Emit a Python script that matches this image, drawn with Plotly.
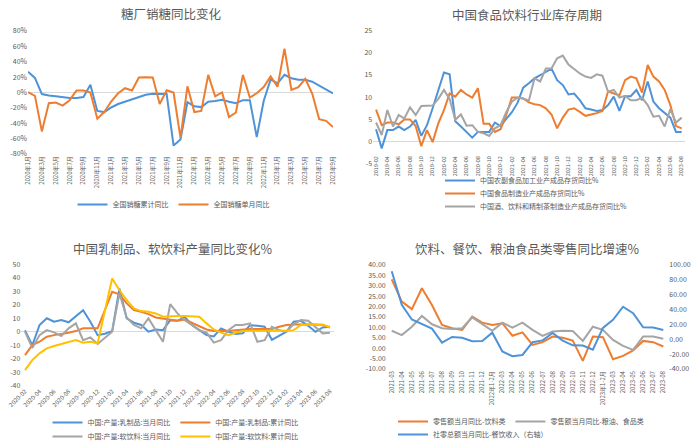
import plotly.graph_objects as go

W, H = 700, 446
FONT = "Noto Sans CJK SC"
TXT = "#595959"
BLUE = "#4E93D8"
ORANGE = "#ED7D31"
GRAY = "#A5A5A5"
YELLOW = "#FFC000"

# ---------------- data ----------------
# Panel 1: sugar sales yoy
_all_cn = [f"{y}年{m}月" for y in (2020, 2021, 2022, 2023) for m in range(1, 13)]
sugar_months = _all_cn[:45]  # 2020年1月 .. 2023年9月
sugar_cum = [27, 19, -2, -4, -5, -6, -7, -7, -6, 10, -24, -25.5, -19.5, -15, -12, -9.5,
             -5.6, -3, -1.7, -2, -2, -69, -61, -12.5, -18, -19, -12, -11, -9.5, -12, -14,
             -10, -10, -58, -11, 17, 12, 23, 18.6, 16.5, 16.5, 14, 8.7, 3, -1.3]
sugar_month = [0.4, -4.3, -50.6, -14, -13, -17, -10, 2.6, 2.6, 0, -34, -25.5, -11.7, -1,
               5.6, 2.6, 19.5, 20, 19.5, -15, 3, 0, -59, 8, -25.5, -24, 23, -5, 0, -32,
               -26, 23, -6.5, -1, 7, 21, 7.4, 57, 3.5, 7, 17.7, -1.3, -34.6, -36.8, -45]

# Panel 2: inventory cycle
_all_dash = [f"{y}-{m:02d}" for y in (2019, 2020, 2021, 2022, 2023) for m in range(1, 13)]
inv_months = _all_dash[1:56]  # 2019-02 .. 2023-08
inv_agri = [2.8, -1.5, 2.6, 2.6, 3.4, 2.6, 3.4, 4.9, 1.3, 3.7,
            7.5, 11.6, 15.5, 15.1, 4.6, 3.4, 2.2, 0.9, 2.2, 2.2,
            2.2, 4.3, 3.5, 5.1, 6.6, 8.7, 12.1, 13.1, 14.2, 14.9,
            15.7, 16.4, 13.8, 12.7, 10.6, 10.8, 9.3, 7.5, 7.2, 6.9,
            7.1, 8.2, 10.1, 6.9, 10.2, 10.2, 11.6, 9.3, 13.5, 9.0,
            7.5, 6.4, 5.4, 2.2, 2.2]
inv_food = [7.2, 3.7, 4.3, 4.3, 3.9, 5.0, 5.0, 3.5, -1.0, 2.6,
            -0.1, 4.1, 7.1, 10.8, 10.1, 11.6, 10.6, 9.9, 12.0, 4.0,
            4.0, 2.2, 2.8, 6.0, 9.9, 9.9, 9.7, 8.8, 8.4, 8.2,
            7.5, 6.1, 3.0, 5.4, 7.2, 7.5, 6.7, 5.8, 6.1, 6.4,
            6.9, 11.3, 10.8, 10.4, 13.8, 14.6, 14.2, 11.0, 17.2, 14.6,
            13.5, 11.6, 8.2, 3.5, 3.0]
inv_drink = [4.3, 1.5, 7.1, 3.4, 6.0, 5.2, 7.7, 6.0, 8.0, 8.0,
             8.1, 9.6, 11.6, 9.6, 4.9, 6.1, 3.6, 3.7, 2.2, 1.9,
             1.3, 3.0, 3.7, 6.6, 9.0, 9.9, 9.7, 9.2, 14.2, 13.5,
             16.4, 16.4, 18.7, 19.3, 17.3, 16.3, 15.3, 14.6, 14.3, 15.1,
             14.8, 11.2, 11.6, 9.9, 10.3, 9.3, 9.3, 9.9, 8.2, 5.6,
             5.8, 3.4, 7.3, 4.3, 5.4]

# Panel 3: dairy / soft drink output
dairy_months = _all_dash[13:56]  # 2020-02 .. 2023-08
dairy_m = [1, -10, 5, 10, 7.4, 8.6, 7, 11.6, 16, 7.4,
           -2.5, -1.5, 0.5, 32, 10, 6.7, 5, 0, 1.7, 1.2,
           8.6, 8.1, 11, 5, 1.2, -2.5, -3.5, 2.5, 0, -1.7,
           -1.2, 5, 4.4, 3.7, -6, -3.2, 0, 7.4, 8.1, 4.4,
           0, 3.2, 3.7]
dairy_c = [-17.3, -9.9, -7.4, -3.7, -2.5, -1.7, -0.7, 0.5, 2.5, 2.5,
           2.5, None, 29.6, 27.7, 21, 16, 14.8, 13.1, 10.6, 9.9,
           9.1, 8.1, 9.1, 6.7, 4.2, 1.7, 0.5, 0.5, 0.5, 1.2,
           1.7, 2.0, 2.0, 2.0, 2.0, 3.7, 5, 5.4, 5.4, 5.7,
           5.4, 5, 3.2]
soft_m = [0, -12, -2.5, 1.2, -0.5, -3.2, 2.5, 6.2, -6.2, -4.2,
          -9.1, -4.9, 0, 28.4, 10.6, 5, 2.5, 9.9, 1.7, -7.4,
          20.5, 13.6, 8.6, 5, 1.2, -0.7, -8.1, -6.2, 1.2, 5,
          5, 6.2, -7.4, -6.2, 3.7, 1.2, 0, 5.7, 8.6, 8.1,
          3.2, -1.2, -0.7]
soft_c = [-28.4, -21, -16, -12.3, -10.6, -9.1, -8.1, -6.2, -8.1, -7.4,
          -8.6, None, 39.5, 30.9, 23.5, 17.3, 15.3, 14.8, 13.6, 11.1,
          11.6, 11.6, 11.6, 11.6, 11.1, 6.2, 1.7, -0.7, -2.5, -0.7,
          0.5, 0.7, 0.7, 0.5, 0.5, 0.5, 0.7, 1.2, 5, 5.4,
          5, 5.4, 3.2]

# Panel 4: retail yoy
retail_cats = ["2021-03", "2021-04", "2021-05", "2021-06", "2021-07", "2021-08", "2021-09",
               "2021-10", "2021-11", "2021-12", "2022年1-2月", "2022-03", "2022-04", "2022-05",
               "2022-06", "2022-07", "2022-08", "2022-09", "2022-10", "2022-11", "2022-12",
               "2023年1-2月", "2023-03", "2023-04", "2023-05", "2023-06", "2023-07", "2023-08"]
retail_bev = [33.1, 22.4, 18.8, 28.8, 20.8, 11.2, 9.6, 8.8, 15.2, 12.3,
              11.2, 12, 6.0, 7.6, 1.6, 2.9, 5.6, 5.0, 3.7, -6.1,
              5.6, 5.3, -5.3, -3.7, -1.1, 3.5, 2.9, 0.8]
retail_food = [8.4, 6.3, 10.3, 15.5, 11.5, 9.6, 9.2, 9.6, 14.8, 11.6,
               8.4, 12.3, 9.9, 12.3, 8.8, 5.9, 8, 8.4, 8.3, 3.5,
               10.3, 8.8, 4.0, 1.1, -0.8, 5.6, 5.6, 4.5]
retail_catering = [91.6, 46.4, 26.6, 20.0, 14.3, -4.5, 3.1, 2.0, -2.7, -2.2,
                   8.9, -16.4, -22.7, -21.1, -4.0, -1.5, 8.4, -1.7, -8.1, -8.4,
                   -14.1, 15.4, 26.3, 43.8, 35.1, 16.1, 15.8, 12.4]

# tick values
p1_y = list(range(-80, 81, 20))
p2_y = list(range(-5, 26, 5))
p3_y = list(range(-40, 51, 10))
p4_yl = list(range(-10, 41, 5))
p4_yr = list(range(-40, 101, 20))


def px(p):
    return p / W


def py(p):
    return (H - p) / H


fig = go.Figure()
LW = 2


def line(x, y, name, color, xa, ya, legend, gaps=False):
    fig.add_trace(go.Scatter(x=x, y=y, name=name, mode="lines",
                             line=dict(color=color, width=LW),
                             xaxis=xa, yaxis=ya, legend=legend,
                             connectgaps=gaps, hoverinfo="skip"))


line(sugar_months, sugar_cum, "全国销糖累计同比", BLUE, "x", "y", "legend")
line(sugar_months, sugar_month, "全国销糖单月同比", ORANGE, "x", "y", "legend")

line(inv_months, inv_agri, "中国农副食品加工业产成品存货同比%", BLUE, "x2", "y2", "legend2")
line(inv_months, inv_food, "中国食品制造业产成品存货同比%", ORANGE, "x2", "y2", "legend3")
line(inv_months, inv_drink, "中国酒、饮料和精制茶制造业产成品存货同比%", GRAY, "x2", "y2", "legend4")

line(dairy_months, dairy_m, "中国:产量:乳制品:当月同比", BLUE, "x3", "y3", "legend5")
line(dairy_months, dairy_c, "中国:产量:乳制品:累计同比", ORANGE, "x3", "y3", "legend5", True)
line(dairy_months, soft_m, "中国:产量:软饮料:当月同比", GRAY, "x3", "y3", "legend6")
line(dairy_months, soft_c, "中国:产量:软饮料:累计同比", YELLOW, "x3", "y3", "legend6", True)

line(retail_cats, retail_bev, "零售额当月同比-饮料类", ORANGE, "x4", "y4", "legend7")
line(retail_cats, retail_food, "零售额当月同比-粮油、食品类", GRAY, "x4", "y4", "legend7")
line(retail_cats, retail_catering, "社零总额当月同比-餐饮收入（右轴）", BLUE, "x4", "y5", "legend8")

xtf = dict(size=6, color=TXT, family=FONT)
ytf = dict(size=7, color=TXT, family=FONT)
common_x = dict(type="category", showgrid=False, zeroline=False, showline=False,
                ticks="", tickfont=xtf, fixedrange=True, automargin=False)
common_y = dict(showgrid=False, showline=False, ticks="", tickfont=ytf,
                zeroline=False, fixedrange=True, automargin=False)


def fmt(v, dec=0, suffix=""):
    return f"{v:.{dec}f}{suffix}"


fig.update_layout(
    width=W, height=H, margin=dict(l=0, r=0, t=0, b=0, autoexpand=False),
    paper_bgcolor="white", plot_bgcolor="white",
    font=dict(family=FONT, color=TXT),
    xaxis=dict(common_x, domain=[px(28), px(333)], range=[0, 44], anchor="y",
               tickvals=sugar_months[::2], tickangle=-90),
    yaxis=dict(common_y, domain=[py(154), py(31)], range=[-80, 80], anchor="x",
               tickvals=p1_y, ticktext=[fmt(v, 0, "%") for v in p1_y],
               zeroline=True, zerolinecolor="#D9D9D9", zerolinewidth=1),
    xaxis2=dict(common_x, domain=[px(373.2), px(684.5)], range=[-0.5, 54.5],
                anchor="y2", tickvals=inv_months[::2], tickangle=-90,
                ticklabelstandoff=-10, tickfont=dict(size=5.5, color=TXT, family=FONT)),
    yaxis2=dict(common_y, domain=[py(164), py(30.2)], range=[-5, 25], anchor="x2",
                tickvals=p2_y, ticktext=[fmt(v) for v in p2_y],
                zeroline=True, zerolinecolor="#D9D9D9", zerolinewidth=1),
    xaxis3=dict(common_x, domain=[px(21.4), px(333.6)], range=[-0.5, 42.5], anchor="y3",
                tickvals=dairy_months[::2], tickangle=-45),
    yaxis3=dict(common_y, domain=[py(385.7), py(264.3)], range=[-40, 50], anchor="x3",
                tickvals=p3_y, ticktext=[fmt(v) for v in p3_y],
                zeroline=True, zerolinecolor="#D9D9D9", zerolinewidth=1),
    xaxis4=dict(common_x, domain=[px(386.7), px(668.3)], range=[-0.5, 27.5], anchor="y4",
                tickvals=retail_cats, tickangle=-90),
    yaxis4=dict(common_y, domain=[py(369), py(265)], range=[-10, 40], anchor="x4",
                tickvals=p4_yl, ticktext=[fmt(v, 2) for v in p4_yl]),
    yaxis5=dict(common_y, domain=[py(369), py(265)], range=[-40, 100], anchor="x4",
                overlaying="y4", side="right",
                tickvals=p4_yr, ticktext=[fmt(v, 2) for v in p4_yr]),
)

lf = dict(size=7, color=TXT, family=FONT)
base_leg = dict(orientation="h", font=lf, bgcolor="rgba(0,0,0,0)", yanchor="top",
                itemclick=False, itemdoubleclick=False, tracegroupgap=0)
OFF = 14  # approx distance from legend top to item centre
fig.update_layout(
    legend=dict(base_leg, x=px(173.5), xanchor="center", y=py(204 - OFF)),
    legend2=dict(base_leg, x=px(440), xanchor="left", y=py(180 - OFF)),
    legend3=dict(base_leg, x=px(440), xanchor="left", y=py(193 - OFF)),
    legend4=dict(base_leg, x=px(440), xanchor="left", y=py(206 - OFF)),
    legend5=dict(base_leg, x=px(175.5), xanchor="center", y=py(422 - OFF)),
    legend6=dict(base_leg, x=px(175.5), xanchor="center", y=py(436 - OFF)),
    legend7=dict(base_leg, x=px(393), xanchor="left", y=py(421 - OFF)),
    legend8=dict(base_leg, x=px(393), xanchor="left", y=py(434 - OFF)),
)

titles = [("糖厂销糖同比变化", 171, 14), ("中国食品饮料行业库存周期", 527, 15),
          ("中国乳制品、软饮料产量同比变化%", 172.5, 248),
          ("饮料、餐饮、粮油食品类零售同比增速%", 527.5, 248)]
for t, x, y in titles:
    fig.add_annotation(text=t, x=px(x), y=py(y), xref="paper", yref="paper",
                       xanchor="center", yanchor="middle", showarrow=False,
                       font=dict(size=12.5, color=TXT, family=FONT))

fig.write_html("out.html")
